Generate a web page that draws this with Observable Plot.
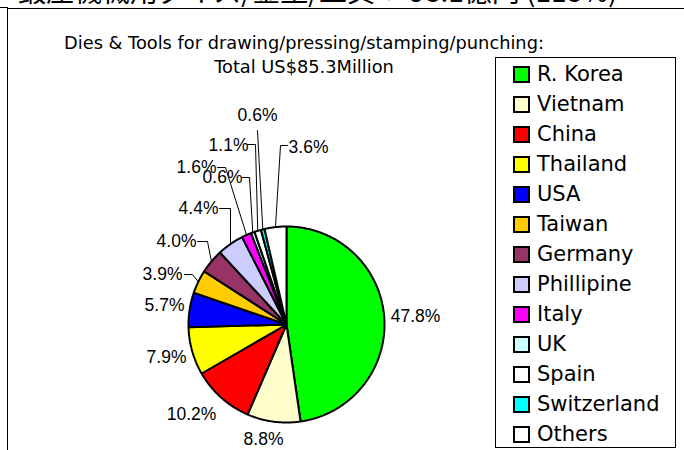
<!DOCTYPE html>
<html>
<head>
<meta charset="utf-8">
<script src="https://cdn.jsdelivr.net/npm/d3@7"></script>
<script src="https://cdn.jsdelivr.net/npm/@observablehq/plot@0.6"></script>
<style>
  html, body { margin: 0; padding: 0; background: #fff; }
  #wrap { position: relative; width: 684px; height: 450px; overflow: hidden; background: #fff; }
  #wrap svg { position: absolute; left: 0; top: 0; }
  #header { position: absolute; left: 18px; top: -25px; font-family: "Noto Sans CJK JP", sans-serif; font-size: 28px; line-height: 30px; white-space: nowrap; color: #000; }
  #frame { position: absolute; left: 7px; top: 8px; width: 700px; height: 460px; border-left: 1.5px solid #000; border-top: 1.5px solid #000; }
  #tick { position: absolute; left: 0; top: 7px; width: 8px; border-top: 1px solid #000; }
  .title { position: absolute; left: 0; width: 608px; text-align: center; font-family: "DejaVu Sans", sans-serif; font-size: 17.8px; white-space: nowrap; line-height: 24px; color: #000; }
  #legend { position: absolute; left: 495px; top: 57px; width: 181px; height: 391px; border: 1px solid #000; box-sizing: border-box; background: #fff; padding-top: 1px; }
  .item { height: 30px; display: flex; align-items: center; font-family: "DejaVu Sans", sans-serif; font-size: 21px; color: #000; }
  .sw { width: 13px; height: 13px; border: 2px solid #000; margin-left: 17px; margin-right: 7px; flex: none; }
</style>
</head>
<body>
<div id="wrap">
  <div id="header">鍛圧機械用ダイス/金型/工具： 98.1億円 (118%)</div>
  <div id="tick"></div>
  <div id="frame"></div>
</div>
<script>
// ---- data ----
const categories = ["R. Korea", "Vietnam", "China", "Thailand", "USA", "Taiwan", "Germany", "Phillipine", "Italy", "UK", "Spain", "Switzerland", "Others"];
const shares = [47.8, 8.8, 10.2, 7.9, 5.7, 3.9, 4.0, 4.4, 1.6, 0.6, 1.1, 0.6, 3.6];
const labels = ["47.8%", "8.8%", "10.2%", "7.9%", "5.7%", "3.9%", "4.0%", "4.4%", "1.6%", "0.6%", "1.1%", "0.6%", "3.6%"];
const colors = ["#00FF00", "#FFFFCC", "#FF0000", "#FFFF00", "#0000FF", "#FFCC00", "#993366", "#CCCCFF", "#FF00FF", "#CCFFFF", "#FFFFFF", "#00FFFF", "#FFFFFF"];
const titleLines = ["Dies & Tools for drawing/pressing/stamping/punching:", "Total US$85.3Million"];

// ---- layout (pixels) ----
const cx = 286, cy = 324, r = 98;
// label placement: center of text, plus optional leader elbow points
const labelLayout = [
  {x: 415, y: 316},
  {x: 263, y: 439},
  {x: 191, y: 414},
  {x: 166, y: 357},
  {x: 164, y: 305},
  {x: 162, y: 274, leader: [[184, 274], [192, 274]]},
  {x: 176, y: 241, leader: [[197, 241], [207, 241]]},
  {x: 198, y: 208, leader: [[219, 208], [230, 208]]},
  {x: 196, y: 167, leader: [[217, 167], [225, 167]]},
  {x: 222, y: 177, leader: [[242, 177], [249, 177]]},
  {x: 228, y: 145, leader: [[247, 144], [255, 144]]},
  {x: 257, y: 115, leader: [[257, 130]]},
  {x: 308, y: 147, leader: [[287, 145], [280, 145]]}
];

const arcs = d3.pie().sort(null).value(d => d)(shares);
const pt = (a, rr) => ({x: cx + rr * Math.sin(a), y: cy - rr * Math.cos(a)});

const slicePts = [];
arcs.forEach((a, i) => {
  const n = Math.max(2, Math.ceil((a.endAngle - a.startAngle) / 0.01));
  slicePts.push({id: i, color: colors[i], ...pt(0, 0)});
  for (let k = 0; k <= n; k++) {
    const t = a.startAngle + (a.endAngle - a.startAngle) * k / n;
    slicePts.push({id: i, color: colors[i], ...pt(t, r)});
  }
  slicePts.push({id: i, color: colors[i], ...pt(0, 0)});
});

const leaderPts = [];
labelLayout.forEach((L, i) => {
  if (!L.leader) return;
  L.leader.forEach(([x, y]) => leaderPts.push({id: i, x, y}));
  const mid = (arcs[i].startAngle + arcs[i].endAngle) / 2;
  leaderPts.push({id: i, ...pt(mid, r)});
});

const labelData = labels.map((t, i) => ({text: t, x: labelLayout[i].x, y: labelLayout[i].y}));

const chart = Plot.plot({
  width: 684,
  height: 450,
  margin: 0,
  x: {domain: [0, 684], range: [0, 684], axis: null},
  y: {domain: [0, 450], range: [0, 450], axis: null},
  color: {type: "identity"},
  style: {background: "transparent"},
  marks: [
    Plot.line(slicePts, {x: "x", y: "y", z: "id", fill: "color", stroke: "#000", strokeWidth: 2, strokeLinejoin: "miter", curve: "linear"}),
    Plot.line(leaderPts, {x: "x", y: "y", z: "id", stroke: "#000", strokeWidth: 1, curve: "linear"}),
    Plot.text(labelData, {x: "x", y: "y", text: "text", fill: "#000", fontSize: 17.5, fontFamily: "Liberation Sans, Arial, sans-serif", textAnchor: "middle"})
  ]
});

const wrap = document.getElementById("wrap");
wrap.appendChild(chart);

titleLines.forEach((t, i) => {
  const d = document.createElement("div");
  d.className = "title";
  d.style.top = (31 + i * 24) + "px";
  d.textContent = t;
  wrap.appendChild(d);
});

const legend = document.createElement("div");
legend.id = "legend";
categories.forEach((c, i) => {
  const row = document.createElement("div");
  row.className = "item";
  const sw = document.createElement("div");
  sw.className = "sw";
  sw.style.background = colors[i];
  const tx = document.createElement("span");
  tx.textContent = c;
  row.appendChild(sw);
  row.appendChild(tx);
  legend.appendChild(row);
});
wrap.appendChild(legend);
</script>
</body>
</html>
